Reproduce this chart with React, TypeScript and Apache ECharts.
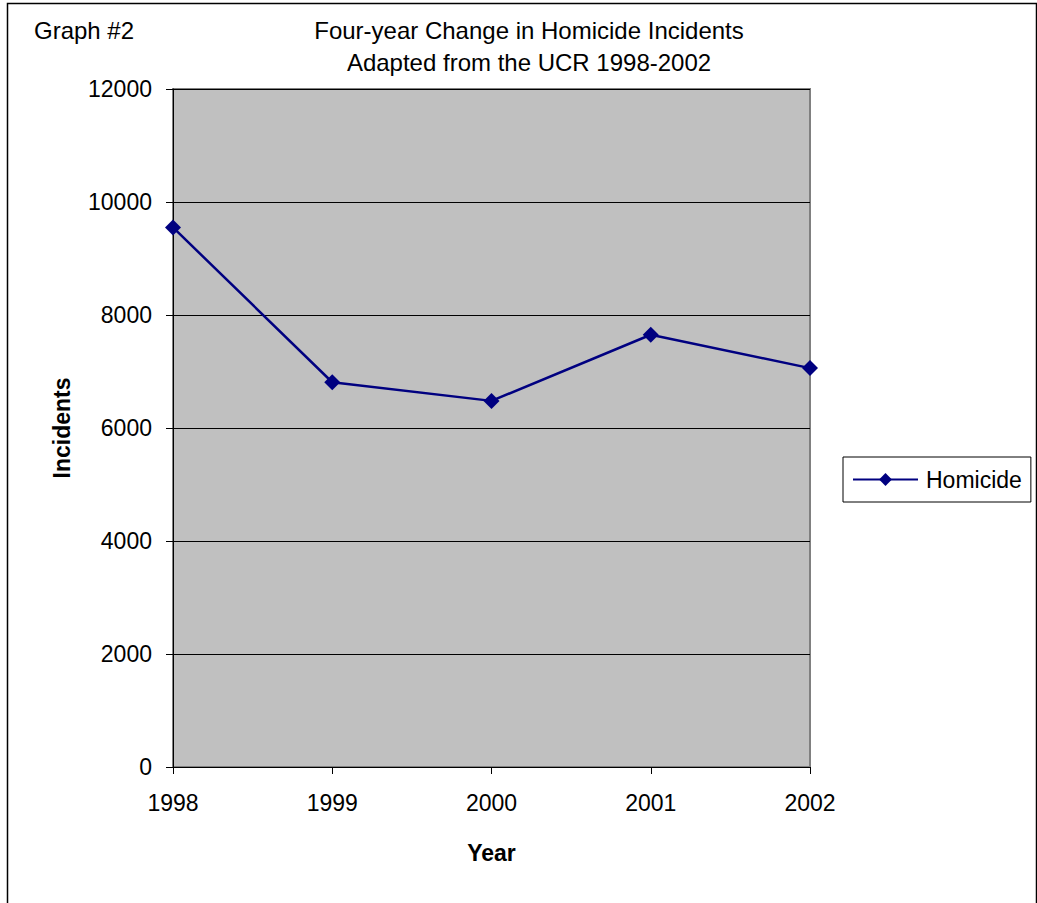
import React, { useEffect, useRef } from "react";
import * as echarts from "echarts";

const years = ["1998", "1999", "2000", "2001", "2002"];
const homicide = [9550, 6810, 6480, 7650, 7060];
const yTicks = { min: 0, max: 12000, interval: 2000 };
const titleLines = ["Four-year Change in Homicide Incidents", "Adapted from the UCR 1998-2002"];
const graphLabel = "Graph #2";
const seriesName = "Homicide";

const FONT = "'Liberation Sans', Arial, sans-serif";

export default function App() {
  const ref = useRef<HTMLDivElement>(null);
  useEffect(() => {
    document.body.style.margin = "0";
    const chart = echarts.init(ref.current!, null, { renderer: "svg" });
    chart.setOption({
      animation: false,
      backgroundColor: "#ffffff",
      textStyle: { fontFamily: FONT },
      title: [
        {
          text: titleLines.join("\n"),
          left: 524,
          top: 9,
          textAlign: "center",
          textStyle: { fontFamily: FONT, fontSize: 24, fontWeight: "normal", color: "#000", lineHeight: 32 },
        },
        {
          text: graphLabel,
          left: 29,
          top: 9,
          textStyle: { fontFamily: FONT, fontSize: 24, fontWeight: "normal", color: "#000", lineHeight: 32 },
        },
      ],
      legend: {
        data: [seriesName],
        left: 843,
        top: 457,
        orient: "vertical",
        backgroundColor: "#ffffff",
        borderColor: "#000000",
        borderWidth: 1,
        padding: [11, 9, 11, 9],
        itemWidth: 65,
        itemHeight: 16,
        itemGap: 0,
        textStyle: { fontFamily: FONT, fontSize: 23, color: "#000", padding: [0, 0, 0, 3] },
      },
      graphic: [
        {
          type: "rect",
          left: 5,
          top: 1,
          shape: { width: 1029, height: 910 },
          style: { fill: "none", stroke: "#000", lineWidth: 1.5 },
          silent: true,
          z: -1,
        },
      ],
      grid: {
        left: 173,
        top: 89,
        width: 637,
        height: 678,
        show: true,
        backgroundColor: "#C0C0C0",
        borderColor: "#808080",
        borderWidth: 2,
      },
      xAxis: {
        type: "category",
        data: years,
        boundaryGap: false,
        name: "Year",
        nameLocation: "middle",
        nameGap: 74,
        nameTextStyle: { fontFamily: FONT, fontSize: 23, fontWeight: "bold", color: "#000" },
        axisLine: { show: true, lineStyle: { color: "#000", width: 1 } },
        axisTick: { show: true, alignWithLabel: true, length: 7, lineStyle: { color: "#000" } },
        axisLabel: { fontFamily: FONT, fontSize: 23, color: "#000", margin: 24 },
        splitLine: { show: false },
      },
      yAxis: {
        type: "value",
        min: yTicks.min,
        max: yTicks.max,
        interval: yTicks.interval,
        name: "Incidents",
        nameLocation: "middle",
        nameGap: 100,
        nameTextStyle: { fontFamily: FONT, fontSize: 23, fontWeight: "bold", color: "#000" },
        axisLine: { show: true, lineStyle: { color: "#000", width: 1 } },
        axisTick: { show: true, length: 7, lineStyle: { color: "#000" } },
        axisLabel: { fontFamily: FONT, fontSize: 23, color: "#000", margin: 21, formatter: (v: number) => String(v) },
        splitLine: { show: true, lineStyle: { color: "#000", width: 1 } },
      },
      series: [
        {
          name: seriesName,
          type: "line",
          data: homicide,
          symbol: "diamond",
          symbolSize: 16,
          lineStyle: { color: "#000080", width: 2.5 },
          itemStyle: { color: "#000080" },
        },
      ],
    });
    return () => chart.dispose();
  }, []);
  return <div ref={ref} style={{ position: "absolute", left: 0, top: 0, width: 1037, height: 903 }} />;
}
